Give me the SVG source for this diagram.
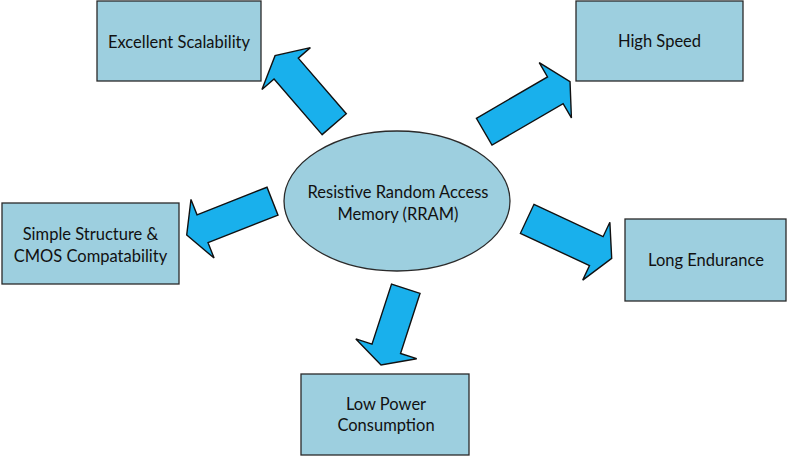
<svg xmlns="http://www.w3.org/2000/svg" width="788" height="456" viewBox="0 0 788 456">
<style>
.box{fill:#9dcfdf;stroke:#2a2a2a;stroke-width:1.3}
.lbl{font-family:Lato,"Open Sans","Liberation Sans",sans-serif;font-size:16.5px;fill:#111;text-anchor:middle}
.arr{fill:#19b0ec;stroke:#111;stroke-width:1.4;stroke-linejoin:miter}
</style>
<rect width="788" height="456" fill="#fff"/>
<g id="connectors">
<polygon class="arr" transform="translate(334.2,124.2) rotate(-130.8)" points="0,-16 73.5,-16 73.5,-32 90.5,0 73.5,32 73.5,16 0,16"/>
<polygon class="arr" transform="translate(484.2,131.7) rotate(-30.2)" points="0,-15.5 82.3,-15.5 82.3,-32 99.3,0 82.3,32 82.3,15.5 0,15.5"/>
<polygon class="arr" transform="translate(272.5,201.2) rotate(158.5)" points="0,-15 75.2,-15 75.2,-31.5 92.2,0 75.2,31.5 75.2,15 0,15"/>
<polygon class="arr" transform="translate(527.2,218.8) rotate(25.1)" points="0,-16 76.3,-16 76.3,-32 93.3,0 76.3,32 76.3,16 0,16"/>
<polygon class="arr" transform="translate(405.8,288.7) rotate(108)" points="0,-15 63.2,-15 63.2,-32 80.2,0 63.2,32 63.2,15 0,15"/>
</g>
<g id="rram">
<ellipse class="box" cx="397" cy="201" rx="113" ry="70"/>
<text class="lbl" x="398" y="198">Resistive Random Access</text>
<text class="lbl" x="398" y="220">Memory (RRAM)</text>
</g>
<g id="scalability">
<rect class="box" x="97" y="1" width="164" height="80"/>
<text class="lbl" x="179" y="48">Excellent Scalability</text>
</g>
<g id="speed">
<rect class="box" x="576" y="1" width="167" height="80"/>
<text class="lbl" x="659.5" y="47">High Speed</text>
</g>
<g id="structure">
<rect class="box" x="2" y="203" width="177" height="81"/>
<text class="lbl" x="90.5" y="240">Simple Structure &amp;</text>
<text class="lbl" x="90.5" y="262">CMOS Compatability</text>
</g>
<g id="endurance">
<rect class="box" x="625" y="219" width="161" height="82"/>
<text class="lbl" x="706" y="266">Long Endurance</text>
</g>
<g id="power">
<rect class="box" x="301" y="374" width="168" height="81"/>
<text class="lbl" x="386" y="410">Low Power</text>
<text class="lbl" x="386" y="431">Consumption</text>
</g>
</svg>
